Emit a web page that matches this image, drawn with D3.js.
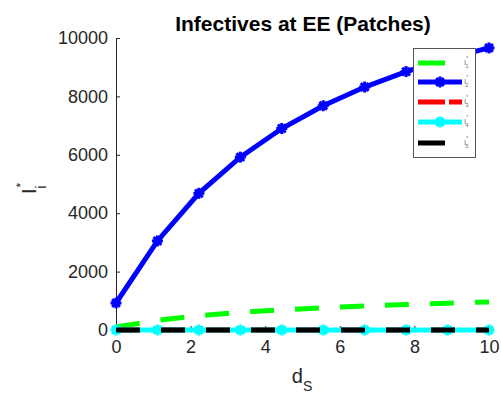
<!DOCTYPE html>
<html><head><meta charset="utf-8">
<script src="https://cdn.jsdelivr.net/npm/d3@7"></script>
<style>body{margin:0;background:#fff}svg{display:block}text{font-family:Arial,"Liberation Sans",sans-serif}</style>
</head><body>
<script>
const dS = [0, 1.111, 2.222, 3.333, 4.444, 5.556, 6.667, 7.778, 8.889, 10];
const I1 = [100, 330, 490, 600, 690, 760, 820, 870, 920, 960];
const I2 = [925, 3050, 4680, 5920, 6900, 7680, 8320, 8850, 9300, 9660];
const I3 = [0, 0, 0, 0, 0, 0, 0, 0, 0, 0];
const I4 = [0, 0, 0, 0, 0, 0, 0, 0, 0, 0];
const I5 = [0, 0, 0, 0, 0, 0, 0, 0, 0, 0];
const xTicks = [0, 2, 4, 6, 8, 10];
const yTicks = [0, 2000, 4000, 6000, 8000, 10000];
const seriesNames = ["1", "2", "3", "4", "5"];

const W = 501, H = 398;
const svg = d3.select("body").append("svg").attr("width", W).attr("height", H);
const x = d3.scaleLinear().domain([0, 10]).range([116, 489]);
const y = d3.scaleLinear().domain([0, 10000]).range([330, 38]);
const grey = "#262626";

// axes
const xAxis = d3.axisBottom(x).tickValues(xTicks).tickFormat(d3.format("d")).tickSizeInner(-4).tickSizeOuter(0).tickPadding(10);
const yAxis = d3.axisLeft(y).tickValues(yTicks).tickFormat(d3.format("d")).tickSizeInner(-4).tickSizeOuter(0).tickPadding(8);
const gx = svg.append("g").attr("transform", `translate(0,${y(0)})`).call(xAxis);
const gy = svg.append("g").attr("transform", `translate(${x(0)},0)`).call(yAxis);
[gx, gy].forEach(g => {
  g.attr("font-size", null).attr("font-family", null);
  g.select(".domain").attr("stroke", grey).attr("stroke-width", 1);
  g.selectAll(".tick line").attr("stroke", grey);
  g.selectAll(".tick text").attr("fill", grey).style("font-size", "18px");
});

// series
const series = [
  {v: I1, color: "#00ff00", dash: "24,21", marker: false},
  {v: I2, color: "#0000ff", dash: null, marker: true},
  {v: I3, color: "#ff0000", dash: "24,21", marker: false},
  {v: I4, color: "#00ffff", dash: null, marker: true},
  {v: I5, color: "#000000", dash: "24,21", marker: false}
];
const line = d3.line().x((d, i) => x(dS[i])).y(d => y(d));
function star(g, cx, cy, color) {
  const r = 5.5;
  for (let k = 0; k < 4; k++) {
    const a = k * Math.PI / 4;
    g.append("line").attr("x1", cx - r * Math.cos(a)).attr("y1", cy - r * Math.sin(a))
      .attr("x2", cx + r * Math.cos(a)).attr("y2", cy + r * Math.sin(a))
      .attr("stroke", color).attr("stroke-width", 3);
  }
  g.append("circle").attr("cx", cx).attr("cy", cy).attr("r", 4).attr("fill", color);
}
const gd = svg.append("g");
series.forEach(s => {
  gd.append("path").datum(s.v).attr("d", line).attr("fill", "none")
    .attr("stroke", s.color).attr("stroke-width", 5)
    .attr("stroke-dasharray", s.dash);
  if (s.marker) s.v.forEach((d, i) => star(gd, x(dS[i]), y(d), s.color));
});

// title and labels
svg.append("text").attr("x", 303).attr("y", 31).attr("text-anchor", "middle")
  .style("font-size", "21px").style("font-weight", "bold").attr("fill", "#000")
  .text("Infectives at EE (Patches)");
const xl = svg.append("text").attr("x", 302).attr("y", 383).attr("text-anchor", "middle")
  .style("font-size", "20px").attr("fill", grey);
xl.append("tspan").text("d");
xl.append("tspan").attr("dy", 8).style("font-size", "14px").text("S");
const yl = svg.append("text").attr("transform", "translate(36,194) rotate(-90)").attr("text-anchor", "start")
  .style("font-size", "20px").attr("fill", grey);
yl.append("tspan").text("I");
yl.append("tspan").attr("dx", 1).attr("dy", -11).style("font-size", "12px").text("*");
yl.append("tspan").attr("dx", -6).attr("dy", 21).style("font-size", "14px").text("i");

// legend
const lg = svg.append("g");
lg.append("rect").attr("x", 413.5).attr("y", 48.5).attr("width", 62).attr("height", 109)
  .attr("fill", "#fff").attr("stroke", "#555").attr("stroke-width", 1);
const ly = [63, 82, 102, 122, 143];
series.forEach((s, i) => {
  const yy = ly[i];
  lg.append("line").attr("x1", 418).attr("x2", s.dash ? (i === 2 ? 462 : 445) : 462)
    .attr("y1", yy).attr("y2", yy).attr("stroke", s.color).attr("stroke-width", 5)
    .attr("stroke-dasharray", i === 2 ? "27,4" : null);
  if (s.marker) star(lg, 440, yy, s.color);
  const t = lg.append("text").attr("x", 464).attr("y", yy + 2).style("font-size", "8px").attr("fill", "#777");
  t.append("tspan").text("I");
  t.append("tspan").attr("dy", -5).style("font-size", "5px").text("*");
  t.append("tspan").attr("dx", -3).attr("dy", 8).style("font-size", "6px").text(seriesNames[i]);
});
</script>
</body></html>
